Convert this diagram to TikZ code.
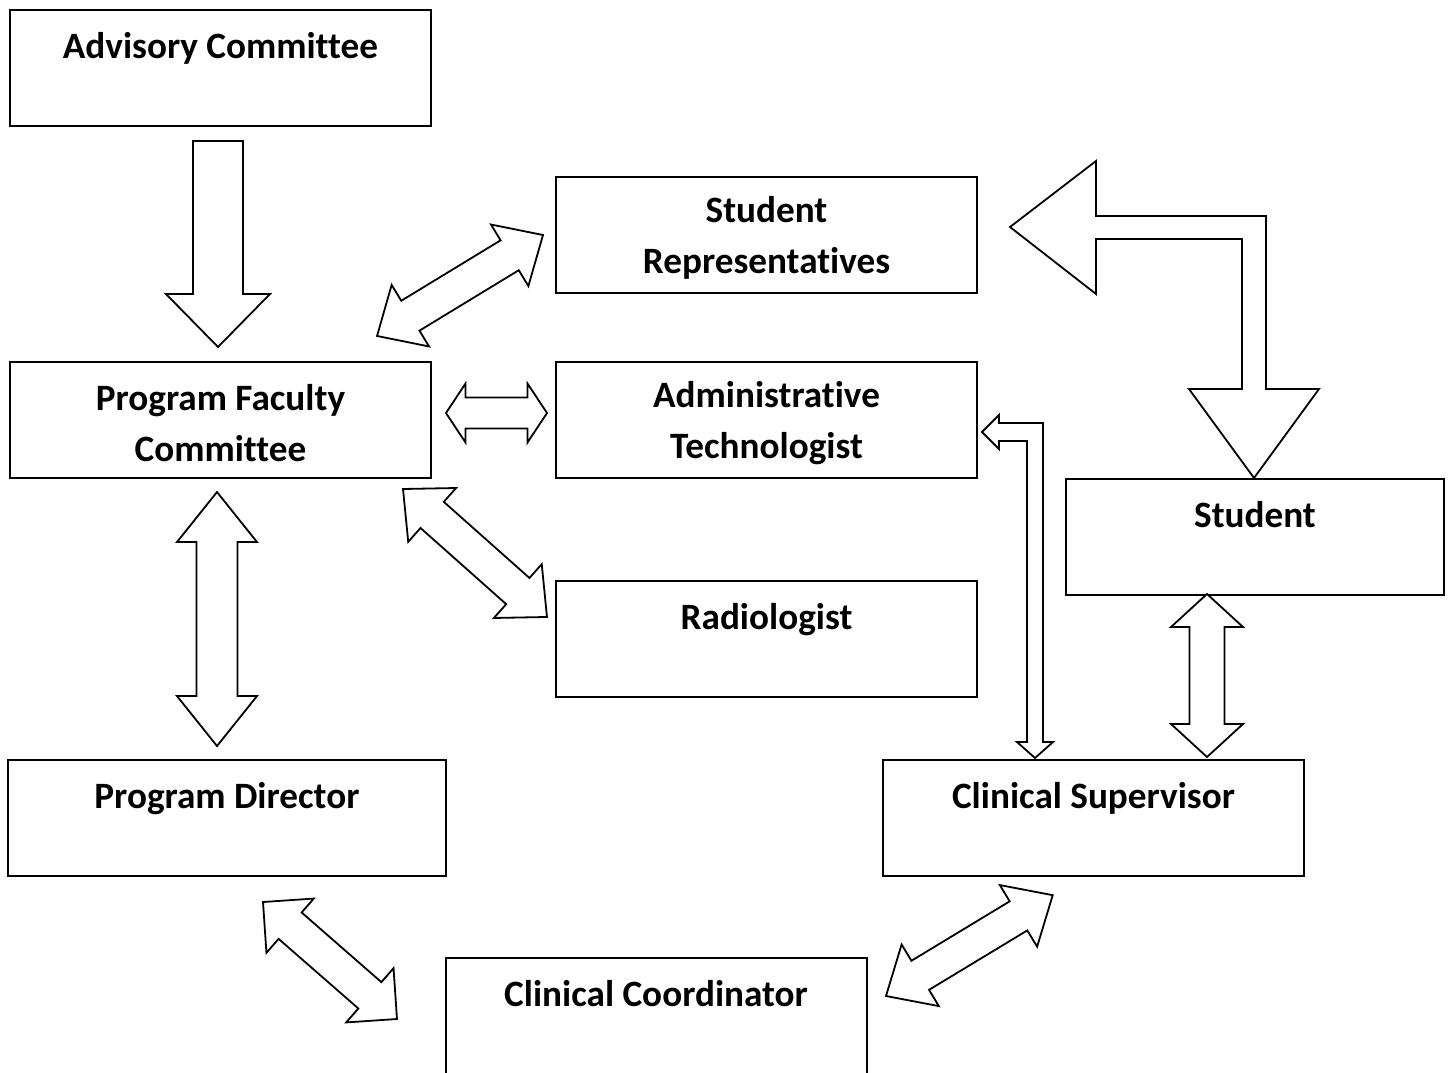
\documentclass[tikz,border=0pt]{standalone}
\usepackage{fontspec}
\setmainfont{Carlito}[Ligatures={NoCommon}]
\usetikzlibrary{positioning}
\usetikzlibrary{calc}
\newcommand{\toppad}{\rule{0pt}{16pt}}
\tikzset{
	box/.style = {draw, rectangle, line width=1pt, minimum width=#1, minimum height=58pt, inner sep=0pt, align=center,
		font=\fontsize{18.6}{25.5}\selectfont\bfseries},
	box/.default = 210.5pt,
	blockarrow/.style = {draw, line width=0.9pt, line join=miter, fill=white}
}
% double block arrow: from, to, shaft half width, head half width, head length
\newcommand{\dblarrow}[5]{%
	\pgfpointdiff{\pgfpointanchor{#1}{center}}{\pgfpointanchor{#2}{center}}%
	\pgfgetlastxy{\ax}{\ay}%
	\pgfmathsetmacro{\aang}{atan2(\ay,\ax)}%
	\pgfmathsetmacro{\alen}{veclen(\ax,\ay)}%
	\draw[blockarrow, shift={(#1)}, rotate=\aang] (0pt,0pt) -- (#5,#4) -- (#5,#3) -- ({\alen pt-#5},#3)
		-- ({\alen pt-#5},#4) -- (\alen pt,0pt) -- ({\alen pt-#5},{-#4}) -- ({\alen pt-#5},{-#3})
		-- (#5,{-#3}) -- (#5,{-#4}) -- cycle;
}
% single block arrow
\newcommand{\sglarrow}[5]{%
	\pgfpointdiff{\pgfpointanchor{#1}{center}}{\pgfpointanchor{#2}{center}}%
	\pgfgetlastxy{\ax}{\ay}%
	\pgfmathsetmacro{\aang}{atan2(\ay,\ax)}%
	\pgfmathsetmacro{\alen}{veclen(\ax,\ay)}%
	\draw[blockarrow, shift={(#1)}, rotate=\aang] (0pt,#3) -- ({\alen pt-#5},#3) -- ({\alen pt-#5},#4)
		-- (\alen pt,0pt) -- ({\alen pt-#5},{-#4}) -- ({\alen pt-#5},{-#3}) -- (0pt,{-#3}) -- cycle;
}
\begin{document}
\begin{tikzpicture}[x=0.5pt, y=-0.5pt]
	\useasboundingbox (0,0) rectangle (1452,1072);
	
	% boxes
	\node[box] (adv) at (220.5, 68) {\toppad Advisory Committee\\\mbox{}};
	\node[box] (rep) at (766.5, 235) {\toppad Student\\Representatives};
	\node[box] (pfc) at (220.5, 420) {\toppad Program Faculty\\Committee};
	\node[box] (adm) at (766.5, 420) {\toppad Administrative\\Technologist};
	\node[box=189pt] (stu) at (1255, 536.5) {\toppad Student\\\mbox{}};
	\node[box] (rad) at (766.5, 639) {\toppad Radiologist\\\mbox{}};
	\node[box=219pt] (dir) at (227, 817.5) {\toppad Program Director\\\mbox{}};
	\node[box] (sup) at (1093.5, 817.5) {\toppad Clinical Supervisor\\\mbox{}};
	\node[box] (crd) at (656, 1016) {\toppad Clinical Coordinator\\\mbox{}};
	
	% arrow ends
	\coordinate (advout) at (218, 141);
	\coordinate (pfcin) at (218, 347);
	\coordinate (repa) at (543, 235);
	\coordinate (pfca) at (377, 336);
	\coordinate (pfcb) at (446, 413);
	\coordinate (adma) at (547, 413);
	\coordinate (pfcc) at (403, 489);
	\coordinate (rada) at (547, 617);
	\coordinate (pfcd) at (217, 492);
	\coordinate (dira) at (217, 746);
	\coordinate (dirb) at (263, 902);
	\coordinate (crda) at (397, 1019);
	\coordinate (crdb) at (886, 996);
	\coordinate (supa) at (1053, 895);
	\coordinate (stua) at (1207, 594);
	\coordinate (supb) at (1207, 757);
	
	\sglarrow{advout}{pfcin}{12.5pt}{26pt}{26.5pt}
	\dblarrow{repa}{pfca}{8.75pt}{18pt}{19.5pt}
	\dblarrow{pfcb}{adma}{7.75pt}{14.75pt}{9.75pt}
	\dblarrow{pfcc}{rada}{8.75pt}{18pt}{19.5pt}
	\dblarrow{pfcd}{dira}{10.25pt}{20pt}{25pt}
	\dblarrow{dirb}{crda}{8.75pt}{18pt}{18pt}
	\dblarrow{crdb}{supa}{8.5pt}{18pt}{20pt}
	\dblarrow{stua}{supb}{8.75pt}{18pt}{16.5pt}
	
	% bent arrows
	\draw[blockarrow] (1010,227) -- (1096,161) -- (1096,216) -- (1266,216) -- (1266,389) -- (1319,389)
		-- (1254,478) -- (1189,389) -- (1242,389) -- (1242,239) -- (1096,239) -- (1096,294) -- cycle;
	\draw[blockarrow] (982,432) -- (999,415) -- (999,423) -- (1043,423) -- (1043,742) -- (1053,742)
		-- (1035,758) -- (1017,742) -- (1027,742) -- (1027,441) -- (999,441) -- (999,449) -- cycle;
	
\end{tikzpicture}
\end{document}
